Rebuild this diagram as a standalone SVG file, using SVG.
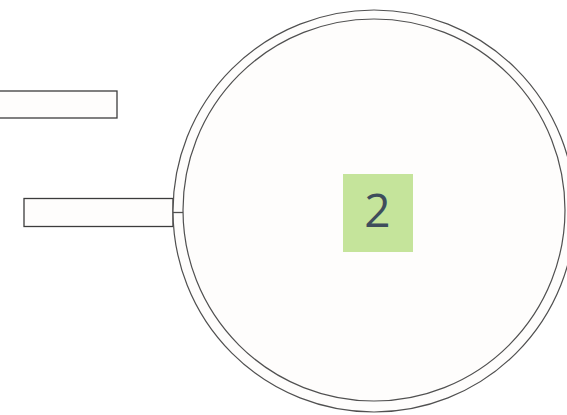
<svg xmlns="http://www.w3.org/2000/svg" width="567" height="415" viewBox="0 0 567 415">
<style>
.box{fill:#fefdfc;stroke:#3c3c3c;stroke-width:1.3}
.ring{fill:#fefdfc;stroke:#505050;stroke-width:1.2}
.ln{stroke:#505050;stroke-width:1.3;fill:none}
.lbl{font-family:"Open Sans","DejaVu Sans",sans-serif;font-size:46px;fill:#3e4d5c;text-anchor:middle}
</style>
<rect x="0" y="0" width="567" height="415" fill="#ffffff"/>
<g id="node-top-bar"><rect class="box" x="-2" y="91" width="119" height="27"/></g>
<g id="node-side-bar"><rect class="box" x="24" y="198.5" width="149" height="28"/></g>
<g id="node-circle">
<circle class="ring" cx="374" cy="211" r="201"/>
<circle class="ring" cx="374" cy="210" r="191"/>
<rect x="343" y="174" width="70" height="78" fill="#c5e49b"/>
<text class="lbl" x="377.5" y="227">2</text>
</g>
<g id="connectors"><line class="ln" x1="173" y1="212.5" x2="183" y2="212.5"/></g>
</svg>
